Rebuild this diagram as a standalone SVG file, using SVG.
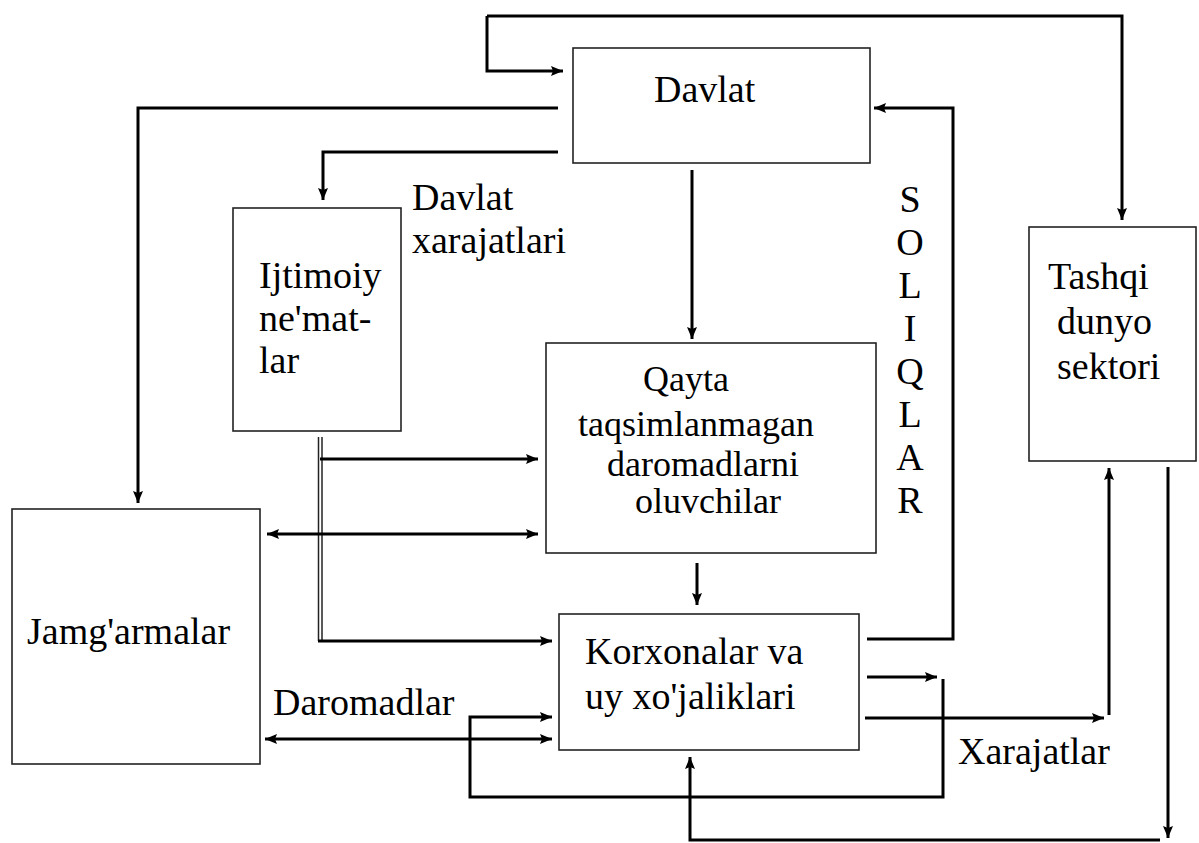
<svg xmlns="http://www.w3.org/2000/svg" width="1199" height="843" viewBox="0 0 1199 843">
<style>
.box{fill:#fff;stroke:#222;stroke-width:1.6}
text{font-family:'Liberation Serif','Tinos','Times New Roman','DejaVu Serif',serif;font-size:38px;fill:#000}
.q{font-size:36px}
.c{fill:none;stroke:#000;stroke-width:3}
.d{fill:none;stroke:#222;stroke-width:1.5}
</style>
<defs>
<marker id="ah" markerWidth="13" markerHeight="11" refX="12" refY="5.5" orient="auto-start-reverse" markerUnits="userSpaceOnUse">
<path d="M0,0.5 L12,5.5 L0,10.5 L2,5.5 Z" fill="#000"/>
</marker>
</defs>
<rect width="1199" height="843" fill="#fff"/>

<g id="connectors">
<path class="c" d="M487,16 V71 H563" marker-end="url(#ah)"/>
<path class="c" d="M487,16 H1122 V220" marker-end="url(#ah)"/>
<path class="c" d="M558,108 H138 V503" marker-end="url(#ah)"/>
<path class="c" d="M558,152 H323 V200" marker-end="url(#ah)"/>
<path class="c" d="M692,170 V339" marker-end="url(#ah)"/>
<path class="c" d="M867,639 H953 V108 H874" marker-end="url(#ah)"/>
<path class="d" d="M318.5,437 V641"/>
<path class="d" d="M322,437 V641"/>
<path class="c" d="M320,459 H538" marker-end="url(#ah)"/>
<path class="c" d="M318,641 H552" marker-end="url(#ah)"/>
<path class="c" d="M267,534 H538" marker-start="url(#ah)" marker-end="url(#ah)"/>
<path class="c" d="M697,563 V605" marker-end="url(#ah)"/>
<path class="c" d="M265,739 H552" marker-start="url(#ah)" marker-end="url(#ah)"/>
<path class="c" d="M943,679 V797 H470 V717 H552" marker-end="url(#ah)"/>
<path class="c" d="M867,677 H937" marker-end="url(#ah)"/>
<path class="c" d="M865,718 H1104" marker-end="url(#ah)"/>
<path class="c" d="M1109,715 V468" marker-end="url(#ah)"/>
<path class="c" d="M1168,467 V838" marker-end="url(#ah)"/>
<path class="c" d="M1160,840 H690 V757" marker-end="url(#ah)"/>
</g>

<g id="davlat">
<rect class="box" x="573" y="48" width="297" height="115"/>
<text x="654" y="102" font-family="Liberation Serif, serif">Davlat</text>
</g>

<g id="davlat-xarajatlari" font-family="Liberation Serif, serif">
<text x="412" y="210">Davlat</text>
<text x="412" y="253">xarajatlari</text>
</g>

<g id="ijtimoiy">
<rect class="box" x="233" y="208" width="168" height="223"/>
<text x="259" y="288">Ijtimoiy</text>
<text x="259" y="331">ne'mat-</text>
<text x="259" y="373">lar</text>
</g>

<g id="soliqlar">
<text text-anchor="middle" x="910" y="212">S</text>
<text text-anchor="middle" x="910" y="255">O</text>
<text text-anchor="middle" x="910" y="298">L</text>
<text text-anchor="middle" x="910" y="341">I</text>
<text text-anchor="middle" x="910" y="384">Q</text>
<text text-anchor="middle" x="910" y="427">L</text>
<text text-anchor="middle" x="910" y="470">A</text>
<text text-anchor="middle" x="910" y="513">R</text>
</g>

<g id="tashqi">
<rect class="box" x="1029" y="227" width="167" height="234"/>
<text x="1048" y="289">Tashqi</text>
<text x="1057" y="334">dunyo</text>
<text x="1057" y="379">sektori</text>
</g>

<g id="qayta">
<rect class="box" x="546" y="343" width="330" height="210"/>
<text class="q" x="643" y="391">Qayta</text>
<text class="q" x="578" y="436">taqsimlanmagan</text>
<text class="q" x="607" y="476">daromadlarni</text>
<text class="q" x="635" y="513">oluvchilar</text>
</g>

<g id="jamgarmalar">
<rect class="box" x="12" y="509" width="248" height="255"/>
<text x="27" y="644">Jamg'armalar</text>
</g>

<g id="korxonalar">
<rect class="box" x="559" y="614" width="300" height="136"/>
<text x="585" y="664">Korxonalar va</text>
<text x="585" y="709">uy xo'jaliklari</text>
</g>

<g id="daromadlar">
<text x="273" y="715">Daromadlar</text>
</g>

<g id="xarajatlar">
<text x="958" y="764">Xarajatlar</text>
</g>
</svg>
